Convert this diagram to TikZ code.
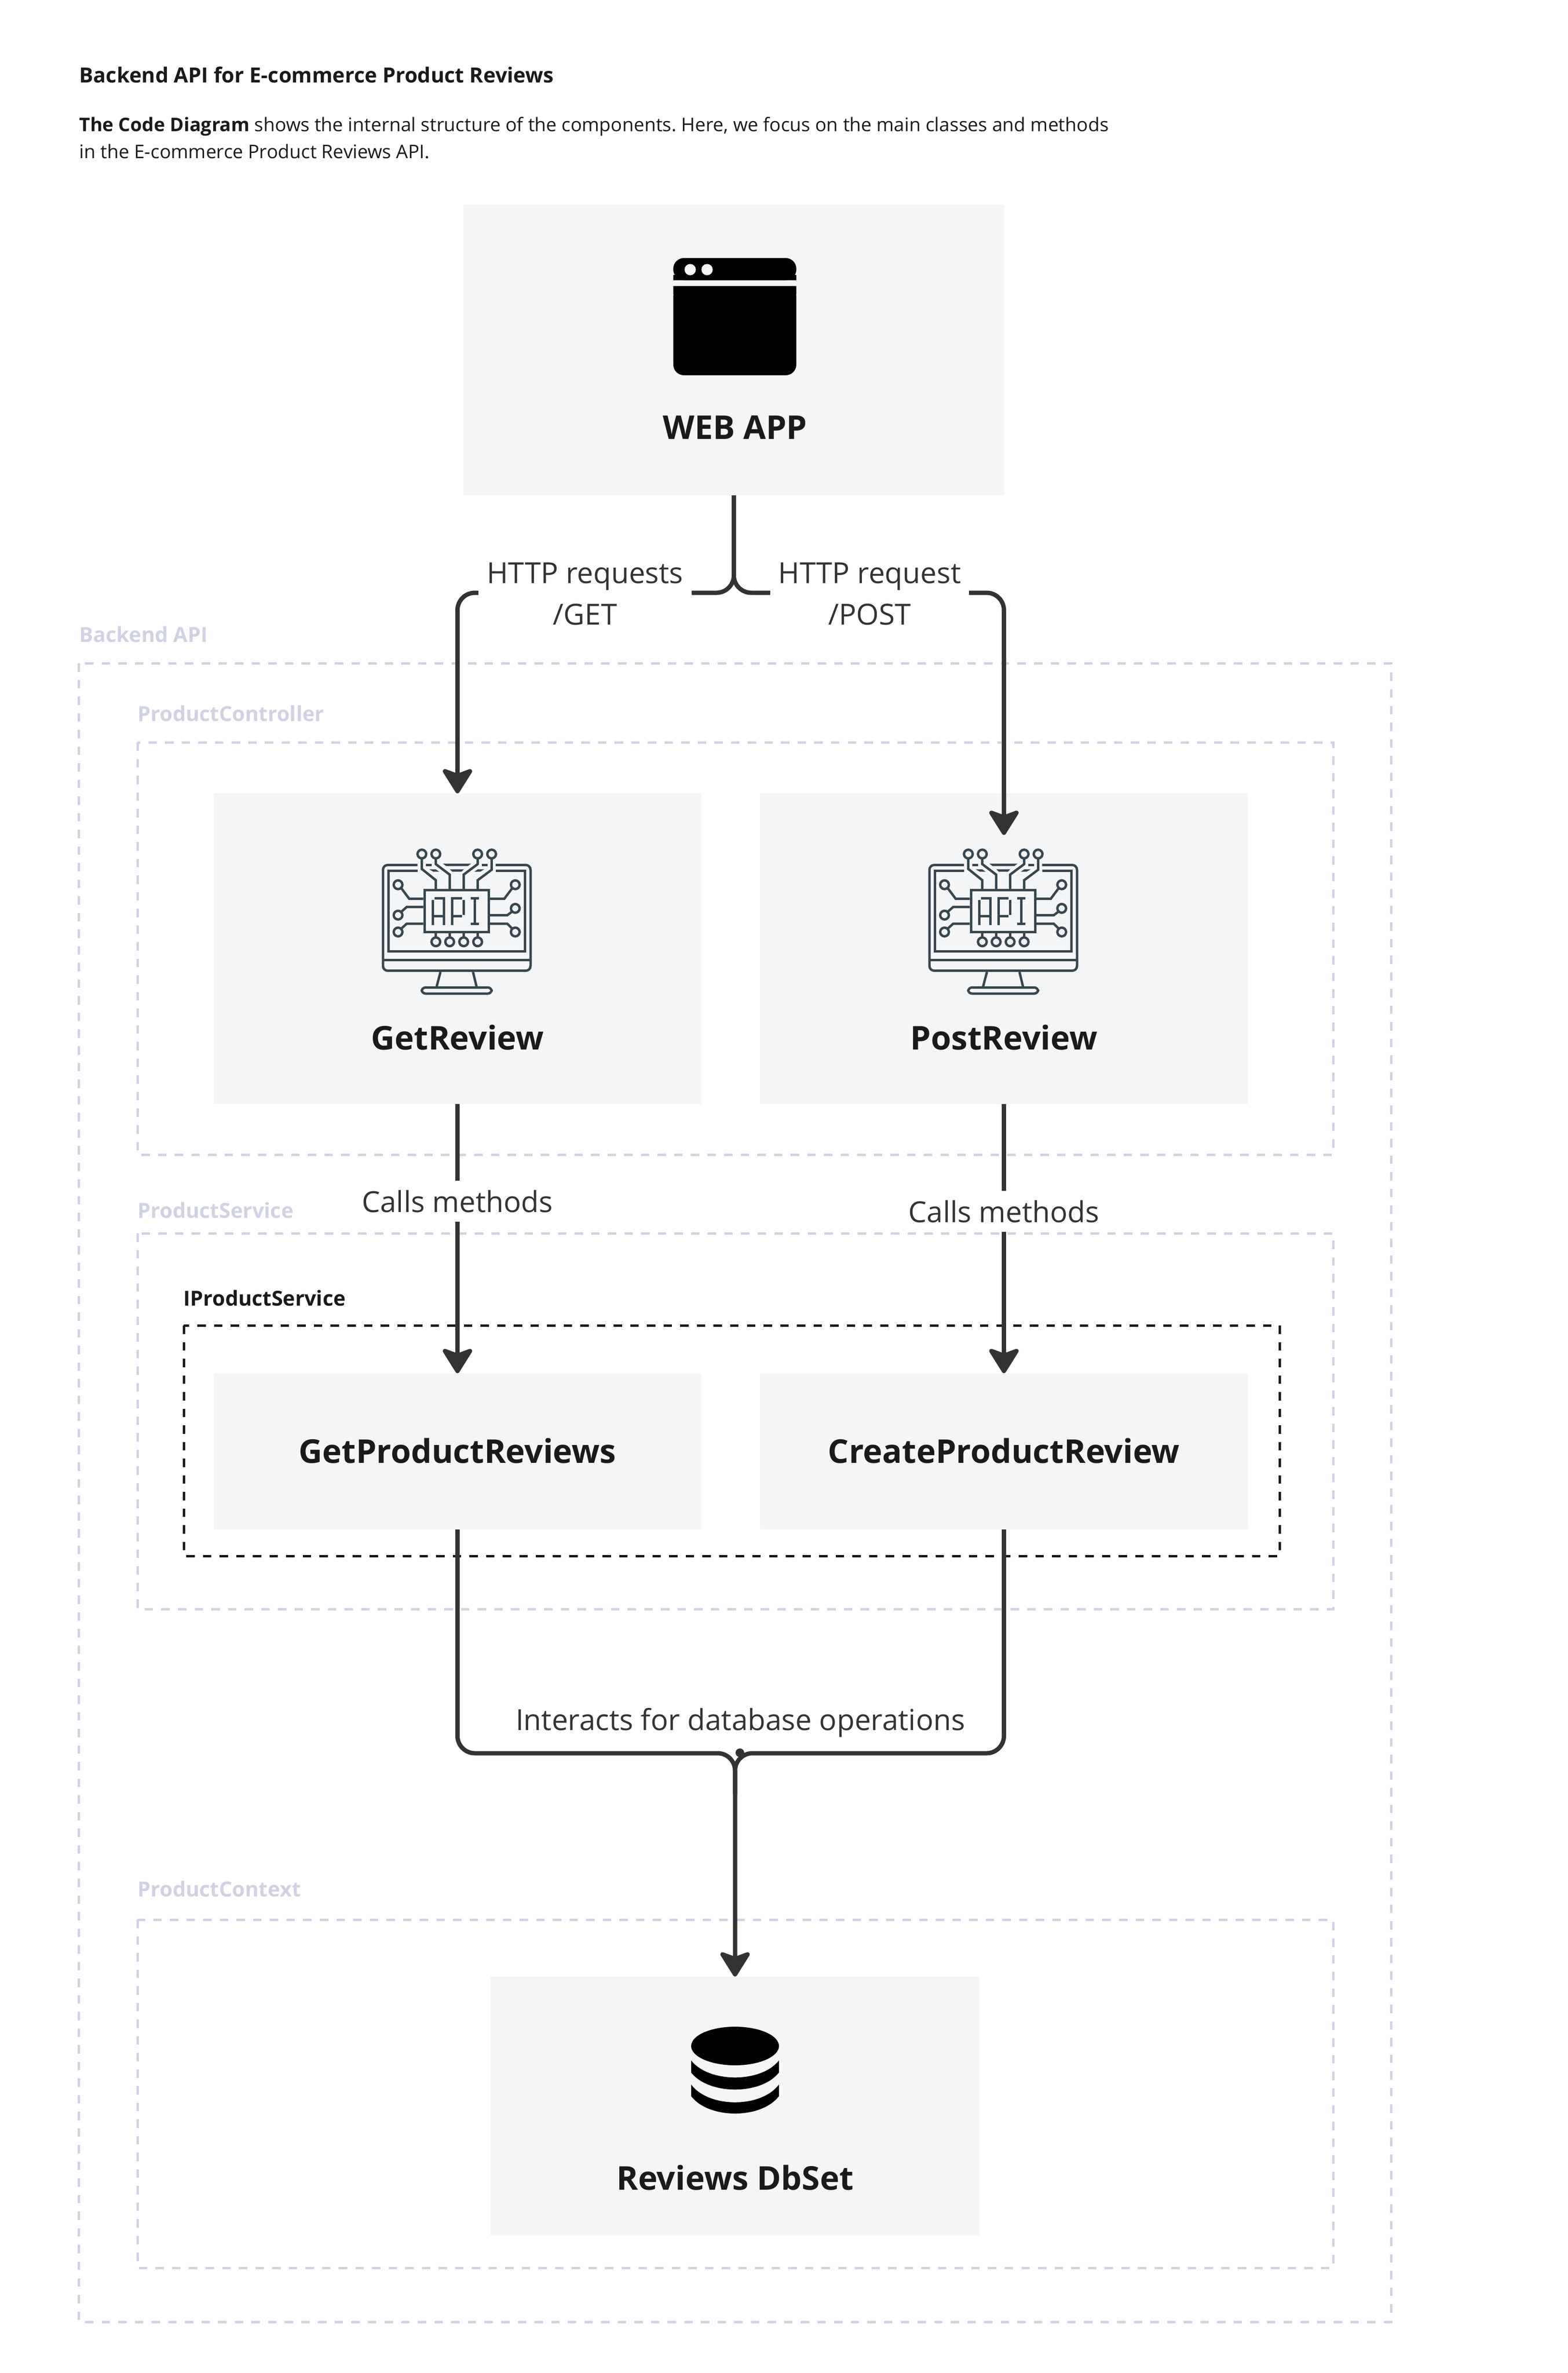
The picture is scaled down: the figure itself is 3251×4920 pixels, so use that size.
\documentclass[tikz,border=0pt]{standalone}
\usepackage{fontspec}
\setmainfont{Open Sans}
\frenchspacing
\usetikzlibrary{arrows.meta}
\definecolor{ink}{HTML}{333333}
\definecolor{dark}{HTML}{1A1A1A}
\definecolor{boxgray}{HTML}{F4F5F7}
\definecolor{grouplilac}{HTML}{D0D2E4}
\definecolor{iconslate}{HTML}{37474F}
\tikzset{
  x=0.01cm,y=-0.01cm,
  groupbox/.style={draw=grouplilac,line width=0.05cm,dash pattern=on 0.175cm off 0.17cm},
  ifacebox/.style={draw=dark,line width=0.05cm,dash pattern=on 0.175cm off 0.17cm},
  card/.style={fill=boxgray,inner sep=0pt,outer sep=0pt},
  cardtext/.style={text=dark,font=\bfseries\fontsize{19.3pt}{24pt}\selectfont,inner sep=0pt,anchor=base},
  grouptext/.style={text=grouplilac,font=\bfseries\fontsize{12.25pt}{14pt}\selectfont,inner sep=0pt,anchor=base west},
  ifacetext/.style={text=dark,font=\bfseries\fontsize{12.2pt}{14pt}\selectfont,inner sep=0pt,anchor=base west},
  edgetext/.style={text=ink,fill=white,align=center,font=\fontsize{17.1pt}{24.5pt}\selectfont,inner xsep=0.17cm,inner ysep=0.19cm},
  link/.style={draw=ink,line width=0.09cm,rounded corners=0.36cm},
  flow/.style={link,-{Stealth[length=0.58cm,width=0.72cm,inset=0.13cm,round]}},
  apiicon/.pic={
    \begin{scope}[scale=1/3,line width=0.05cm,draw=iconslate,fill=iconslate]
      \draw[rounded corners=0.1cm] (497,280) -- (282,280) -- (282,938) -- (1200,938) -- (1200,280) -- (983,280);
      \draw (497,315) -- (315,315) -- (315,818) -- (1166,818) -- (1166,315) -- (983,315);
      \draw (282,870) -- (1200,870);
      \draw (640,945) -- (615,1040) (842,945) -- (865,1040);
      \draw[rounded corners=0.08cm] (523,1080) -- (523,1042) -- (958,1042) -- (958,1080) -- cycle;
      \draw (550,280) -- (585,280) (897,280) -- (932,280);
      \fill (655,272) -- (830,272) -- (810,287) -- (675,287) -- cycle;
      \fill (698,307) -- (785,307) -- (770,322) -- (713,322) -- cycle;
      \fill (570,307) -- (610,307) -- (632,322) -- (595,322) -- cycle;
      \fill (912,307) -- (872,307) -- (850,322) -- (887,322) -- cycle;
      \draw (524,212) circle (27) (611,212) circle (27) (871,212) circle (27) (958,212) circle (27);
      \draw (524,240) -- (524,305) -- (611,375) -- (611,430);
      \draw (611,240) -- (611,275) -- (697,340) -- (697,430);
      \draw (871,240) -- (871,275) -- (784,340) -- (784,430);
      \draw (958,240) -- (958,310) -- (871,375) -- (871,430);
      \draw (541,436) rectangle (941,698);
      \draw (593,653) -- (593,497) (603,488) -- (662,488) -- (662,653) (593,597) -- (662,597);
      \draw (713,653) -- (713,488) -- (775,488) (785,497) -- (785,590) (713,597) -- (775,597);
      \draw (827,488) -- (880,488) (827,645) -- (880,645) (853,488) -- (853,645);
      \draw (376,403) circle (27) (376,592) circle (27) (376,697) circle (27);
      \draw (395,423) -- (445,490) -- (533,490);
      \draw (395,572) -- (430,541) -- (533,541);
      \draw (397,675) -- (430,645) -- (533,645);
      \draw (1105,403) circle (27) (1105,550) circle (27) (1105,697) circle (27);
      \draw (1087,423) -- (1037,490) -- (948,490);
      \draw (1085,570) -- (1055,593) -- (948,593);
      \draw (1085,675) -- (1055,645) -- (948,645);
      \draw (611,758) circle (27) (697,758) circle (27) (784,758) circle (27) (871,758) circle (27);
      \draw (611,698) -- (611,730) (697,698) -- (697,730) (784,698) -- (784,730) (871,698) -- (871,730);
    \end{scope}
  }
}
\begin{document}
\begin{tikzpicture}
\useasboundingbox (0,0) rectangle (3251,4920);
% heading
\node[inner sep=0pt,anchor=base west,text=dark,font=\bfseries\fontsize{12.3pt}{15pt}\selectfont] (heading) at (164,171) {Backend API for E-commerce Product Reviews};
\node[inner sep=0pt,anchor=north west,align=left,text=dark,font=\fontsize{11.08pt}{15.9pt}\selectfont] (intro) at (164,242) {\textbf{The Code Diagram} shows the internal structure of the components. Here, we focus on the main classes and methods\\in the E-commerce Product Reviews API.};
% groups
\draw[groupbox] (163,1375) rectangle (2884,4814);
\draw[groupbox] (285,1539) rectangle (2764,2394);
\draw[groupbox] (285,2557) rectangle (2764,3336);
\draw[groupbox] (285,3980) rectangle (2764,4702);
\draw[ifacebox] (381,2748) rectangle (2653,3226);
\node[grouptext] (lbackend) at (164,1331) {Backend API};
\node[grouptext] (lcontroller) at (285,1495) {ProductController};
\node[grouptext] (lservice) at (285,2525) {ProductService};
\node[grouptext] (lcontext) at (285,3932) {ProductContext};
\node[ifacetext] (liface) at (380,2707) {IProductService};
% cards
\node[card,minimum width=11.21cm,minimum height=6.03cm] (web) at (1521.5,725.5) {};
\node[card,minimum width=10.11cm,minimum height=6.44cm] (getreview) at (948.5,1967) {};
\node[card,minimum width=10.11cm,minimum height=6.44cm] (postreview) at (2081.5,1967) {};
\node[card,minimum width=10.11cm,minimum height=3.24cm] (getpr) at (948.5,3009) {};
\node[card,minimum width=10.11cm,minimum height=3.24cm] (createpr) at (2081.5,3009) {};
\node[card,minimum width=10.14cm,minimum height=5.37cm] (dbset) at (1524,4366.5) {};
% window icon
\fill[black,rounded corners=0.22cm] (1396,581) -- (1396,535) -- (1651,535) -- (1651,581) -- cycle;
\fill[black,rounded corners=0.22cm] (1396,593) -- (1396,778) -- (1651,778) -- (1651,593) -- cycle;
\fill[black] (1396,570) rectangle (1651,581) (1396,593) rectangle (1651,610);
\fill[boxgray] (1431,559) circle (11.7) (1466,559) circle (11.7);
% api icons
\pic at (700,1700) {apiicon};
\pic at (1833,1700) {apiicon};
% database icon
\fill[black] (1524,4242) ellipse [x radius=91,y radius=40];
\fill[black] (1433,4272) .. controls (1470,4319) and (1578,4319) .. (1615,4272) -- (1615,4297) .. controls (1578,4344) and (1470,4344) .. (1433,4297) -- cycle;
\fill[black] (1433,4322) .. controls (1470,4371) and (1578,4371) .. (1615,4322) -- (1615,4346) .. controls (1578,4394) and (1470,4394) .. (1433,4346) -- cycle;
% card labels
\node[cardtext] (lweb) at (1524,910) {WEB APP};
\node[cardtext] (lget) at (948.5,2176) {GetReview};
\node[cardtext] (lpost) at (2081.5,2176) {PostReview};
\node[cardtext] (lgetpr) at (948.5,3033) {GetProductReviews};
\node[cardtext] (lcreatepr) at (2081.5,3033) {CreateProductReview};
\node[cardtext] (ldb) at (1524,4540) {Reviews DbSet};
% connectors
\coordinate (split) at (1521.5,1229);
\coordinate (merge) at (1524,3635);
\coordinate (mergeout) at (1524,3720);
\coordinate (posttip) at (2081.5,1731);
\draw[flow] (web.south) -- (split) -| (getreview.north);
\draw[flow] (web.south) -- (split) -| (posttip);
\draw[flow] (getreview.south) -- (getpr.north);
\draw[flow] (postreview.south) -- (createpr.north);
\draw[flow] (getpr.south) |- (merge) -- (dbset.north);
\draw[link] (createpr.south) |- (merge) -- (mergeout);
\fill[ink] (1534,3634) circle (9);
% connector labels
\node[edgetext,inner ysep=0pt] (http1) at (1213,1231) {HTTP requests\\/GET};
\node[edgetext,inner ysep=0pt] (http2) at (1803,1231) {HTTP request\\/POST};
\node[edgetext,anchor=base] (calls1) at (948.5,2513) {Calls methods};
\node[edgetext,anchor=base] (calls2) at (2081.5,2534) {Calls methods};
\node[edgetext,anchor=base,fill=none,inner sep=0pt] (interacts) at (1535,3587) {Interacts for database operations};
\end{tikzpicture}
\end{document}
